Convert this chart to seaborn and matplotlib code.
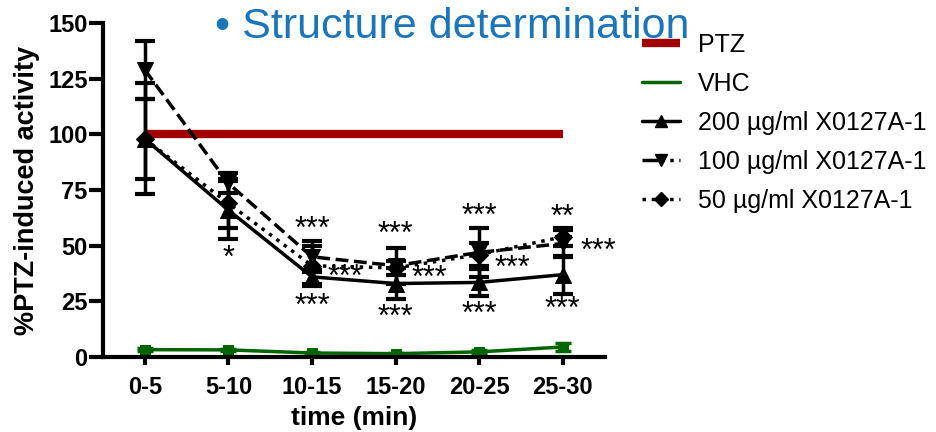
import numpy as np
import matplotlib
matplotlib.use("Agg")
import matplotlib.pyplot as plt
from matplotlib.lines import Line2D
import seaborn as sns

# data
times = ["0-5", "5-10", "10-15", "15-20", "20-25", "25-30"]
ptz = [100, 100, 100, 100, 100, 100]
vhc = [3.3, 3.2, 1.8, 1.5, 2.3, 4.5]
vhc_err = [0.8, 0.6, 0.5, 0.5, 0.8, 1.8]
d200 = [98, 66, 36, 33, 33.5, 37]
d200_err = [18, 13, 3, 7, 6, 8.5]
d100 = [129, 78, 45, 41, 47, 51]
d100_err = [13, 4.5, 7, 8, 11, 6]
d50 = [98, 69, 41, 40, 46, 54]
d50_err = [25, 11, 9, 3, 5, 4]

# significance marks: (time index, x shift, y value, text)
stars = [
    (1, 0.0, 44, "*"),
    (2, 0.0, 57, "***"), (2, 0.4, 35.5, "***"), (2, 0.0, 22.5, "***"),
    (3, 0.0, 55, "***"), (3, 0.4, 35, "***"), (3, 0.0, 17.5, "***"),
    (4, 0.0, 63, "***"), (4, 0.4, 39.5, "***"), (4, 0.0, 19, "***"),
    (5, 0.0, 62.5, "**"), (5, 0.42, 47, "***"), (5, 0.0, 21, "***"),
]

sns.set_style("ticks")
plt.rcParams['font.family'] = ['Liberation Sans', 'DejaVu Sans']
plt.rcParams['xtick.color'] = 'black'
plt.rcParams['ytick.color'] = 'black'
plt.rcParams['axes.labelcolor'] = 'black'
plt.rcParams['axes.edgecolor'] = 'black'
plt.rcParams['text.color'] = 'black'

fig = plt.figure(figsize=(9.36, 4.32), dpi=100)
ax = fig.add_axes([0.110, 0.1736, 0.536, 0.773])

x = np.arange(len(times))
red = "#A00000"
green = "#006400"

sns.lineplot(x=x, y=ptz, ax=ax, color=red, lw=6, solid_capstyle="butt", legend=False)
sns.lineplot(x=x, y=vhc, ax=ax, color=green, lw=2.5, marker="s", markersize=7,
             markeredgecolor=green, legend=False)
ax.errorbar(x, vhc, yerr=vhc_err, fmt="none", ecolor=green, elinewidth=2, capsize=6, capthick=2.5)

series = [
    (d200, d200_err, "^", "-"),
    (d100, d100_err, "v", "--"),
    (d50, d50_err, "D", ":"),
]
for vals, errs, mk, ls in series:
    sns.lineplot(x=x, y=vals, ax=ax, color="black", lw=2.5, linestyle=ls, marker=mk,
                 markersize=11 if mk != "D" else 9, markeredgecolor="black", legend=False)
    ax.errorbar(x, vals, yerr=errs, fmt="none", ecolor="black", elinewidth=2.5,
                capsize=7, capthick=3)

for i, dx, yv, txt in stars:
    ax.text(x[i] + dx, yv, txt, ha="center", va="center", fontsize=22)

ax.set_xlim(-0.5, 5.5)
ax.set_ylim(0, 150)
ax.set_xticks(x)
ax.set_xticklabels(times)
ax.set_yticks([0, 25, 50, 75, 100, 125, 150])
for lbl in ax.get_xticklabels() + ax.get_yticklabels():
    lbl.set_fontweight("bold")
    lbl.set_fontsize(17)
ax.tick_params(axis="y", width=3, length=10, direction="out", pad=1)
ax.tick_params(axis="x", width=3, length=6, direction="out", pad=8)
for s in ["left", "bottom"]:
    ax.spines[s].set_linewidth(3)
sns.despine(ax=ax)
ax.set_xlabel("time (min)", fontsize=19, fontweight="bold", labelpad=5)
ax.set_ylabel("%PTZ-induced activity", fontsize=19.5, fontweight="bold", labelpad=6)

handles = [
    Line2D([], [], color=red, lw=6, solid_capstyle="butt"),
    Line2D([], [], color=green, lw=2.5),
    Line2D([], [], color="black", lw=2.5, ls="-", marker="^", markersize=9),
    Line2D([], [], color="black", lw=2.5, ls="-.", marker="v", markersize=9),
    Line2D([], [], color="black", lw=2.5, ls=":", marker="D", markersize=7),
]
labels = ["PTZ", "VHC", "200 µg/ml X0127A-1", "100 µg/ml X0127A-1", "50 µg/ml X0127A-1"]
fig.legend(handles, labels, loc="upper left", bbox_to_anchor=(642 / 936, 1 - 33 / 432),
           frameon=False, fontsize=18, handlelength=1.5, handletextpad=0.75,
           labelspacing=0.6, borderpad=0, borderaxespad=0)

fig.text(215 / 936, 1 - 38 / 432, "• Structure determination", color="#1B75BC",
         fontsize=31, ha="left", va="baseline")

fig.savefig("out.png", dpi=100)
